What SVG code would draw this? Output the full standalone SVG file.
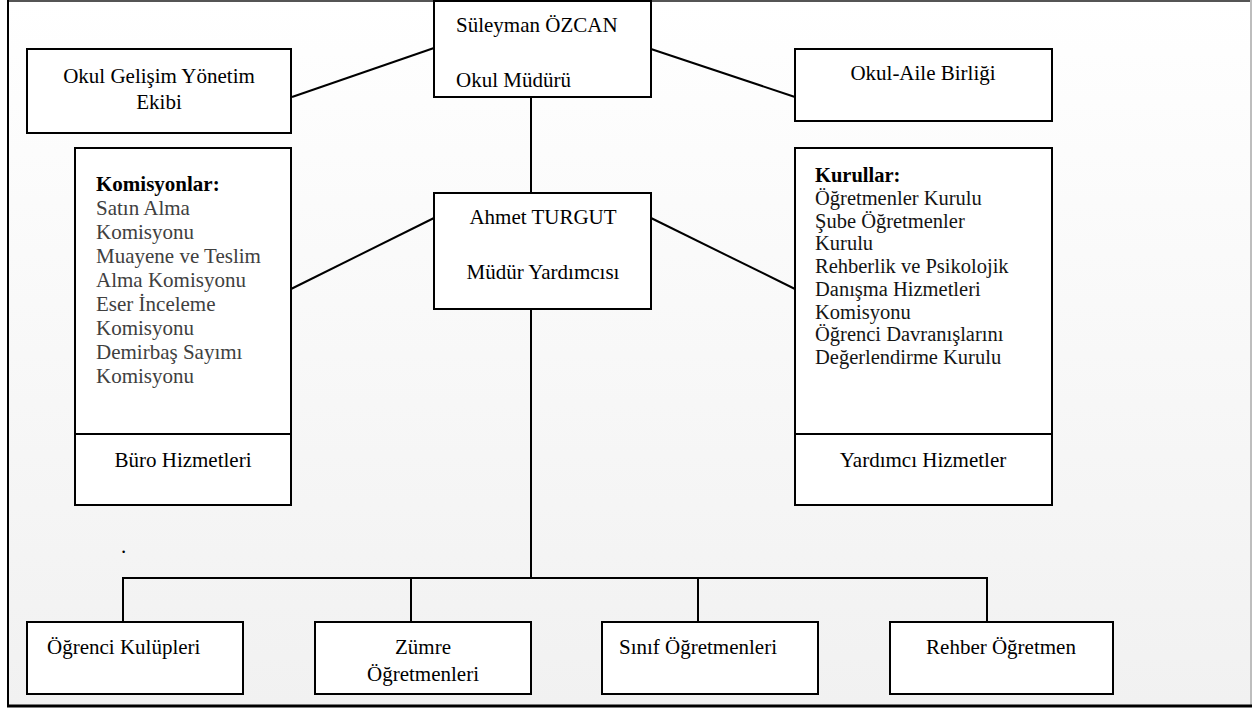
<svg xmlns="http://www.w3.org/2000/svg" width="1252" height="708" viewBox="0 0 1252 708">
<defs>
<linearGradient id="bg" x1="0" y1="0" x2="0" y2="1">
<stop offset="0" stop-color="#ffffff"/>
<stop offset="1" stop-color="#f1f1f1"/>
</linearGradient>
<style>
.box{fill:#ffffff;stroke:#000;stroke-width:2}
.ln{fill:none;stroke:#000;stroke-width:2}
text{font-family:"Liberation Serif","Times New Roman",serif;font-size:21px;fill:#000}
.c{text-anchor:middle}
.b{font-weight:bold}
.g{fill:#404040}
.d{fill:#141414}
.s{font-size:20.5px}
</style>
</defs>
<rect x="0" y="0" width="1252" height="708" fill="#ffffff"/>
<rect x="8" y="1" width="1243" height="705" fill="url(#bg)"/>
<g id="frame">
<line x1="7" y1="1" x2="1251" y2="1" stroke="#555" stroke-width="2"/>
<line x1="1251" y1="0" x2="1251" y2="706" stroke="#bdbdbd" stroke-width="2"/>
<line x1="8" y1="0" x2="8" y2="707" stroke="#000" stroke-width="2"/>
<line x1="7" y1="706" x2="1252" y2="706" stroke="#000" stroke-width="3"/>
</g>
<g id="connectors">
<line class="ln" x1="292" y1="97" x2="434" y2="48"/>
<line class="ln" x1="651" y1="49" x2="795" y2="97"/>
<line class="ln" x1="531" y1="97" x2="531" y2="193"/>
<line class="ln" x1="291" y1="289" x2="434" y2="218"/>
<line class="ln" x1="651" y1="218" x2="795" y2="289"/>
<line class="ln" x1="531" y1="309" x2="531" y2="578"/>
<polyline class="ln" points="123,622 123,578 987,578 987,622"/>
<line class="ln" x1="411" y1="578" x2="411" y2="622"/>
<line class="ln" x1="698" y1="578" x2="698" y2="622"/>
</g>
<g id="okul-gelisim">
<rect class="box" x="27" y="49" width="264" height="84"/>
<text class="c" x="159" y="83">Okul Gelişim Yönetim</text>
<text class="c" x="159" y="109">Ekibi</text>
</g>
<g id="mudur">
<rect class="box" x="434" y="1" width="217" height="96"/>
<text x="456" y="32">Süleyman ÖZCAN</text>
<text x="456" y="87">Okul Müdürü</text>
</g>
<g id="okul-aile">
<rect class="box" x="795" y="49" width="257" height="72"/>
<text class="c" x="923" y="80">Okul-Aile Birliği</text>
</g>
<g id="mudur-yardimcisi">
<rect class="box" x="434" y="193" width="217" height="116"/>
<text class="c" x="543" y="224">Ahmet TURGUT</text>
<text class="c" x="543" y="279">Müdür Yardımcısı</text>
</g>
<g id="komisyonlar">
<rect class="box" x="75" y="148" width="216" height="357"/>
<line class="ln" x1="75" y1="434" x2="291" y2="434"/>
<text class="b" x="96" y="191">Komisyonlar:</text>
<text class="g" x="96" y="215">Satın Alma</text>
<text class="g" x="96" y="239">Komisyonu</text>
<text class="g" x="96" y="263">Muayene ve Teslim</text>
<text class="g" x="96" y="287">Alma Komisyonu</text>
<text class="g" x="96" y="311">Eser İnceleme</text>
<text class="g" x="96" y="335">Komisyonu</text>
<text class="g" x="96" y="359">Demirbaş Sayımı</text>
<text class="g" x="96" y="383">Komisyonu</text>
<text class="c" x="183" y="467">Büro Hizmetleri</text>
</g>
<g id="kurullar">
<rect class="box" x="795" y="148" width="257" height="357"/>
<line class="ln" x1="795" y1="434" x2="1052" y2="434"/>
<text class="b s" x="815" y="182">Kurullar:</text>
<text class="d s" x="815" y="204.8">Öğretmenler Kurulu</text>
<text class="d s" x="815" y="227.5">Şube Öğretmenler</text>
<text class="d s" x="815" y="250.3">Kurulu</text>
<text class="d s" x="815" y="273">Rehberlik ve Psikolojik</text>
<text class="d s" x="815" y="295.8">Danışma Hizmetleri</text>
<text class="d s" x="815" y="318.5">Komisyonu</text>
<text class="d s" x="815" y="341.3">Öğrenci Davranışlarını</text>
<text class="d s" x="815" y="364">Değerlendirme Kurulu</text>
<text class="c" x="923" y="467">Yardımcı Hizmetler</text>
</g>
<text x="121" y="553">.</text>
<g id="ogrenci-kulupleri">
<rect class="box" x="27" y="622" width="216" height="72"/>
<text x="47" y="654">Öğrenci Kulüpleri</text>
</g>
<g id="zumre">
<rect class="box" x="315" y="622" width="216" height="72"/>
<text class="c" x="423" y="654">Zümre</text>
<text class="c" x="423" y="681">Öğretmenleri</text>
</g>
<g id="sinif">
<rect class="box" x="602" y="622" width="216" height="72"/>
<text class="c" x="698" y="654">Sınıf Öğretmenleri</text>
</g>
<g id="rehber">
<rect class="box" x="890" y="622" width="223" height="72"/>
<text class="c" x="1001" y="654">Rehber Öğretmen</text>
</g>
</svg>
